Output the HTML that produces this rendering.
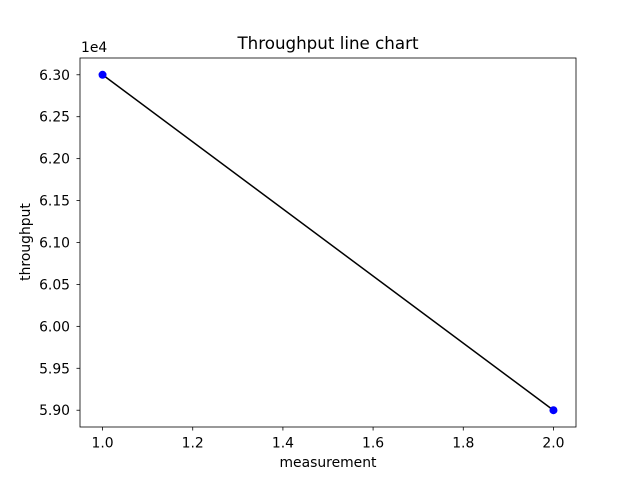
<!DOCTYPE html>
<html><head><meta charset="utf-8"><style>
body{margin:0;background:#fff;}
svg{font-family:"DejaVu Sans","Liberation Sans",sans-serif;}
</style></head><body>
<svg width="640" height="480" viewBox="0 0 640 480">
<rect width="640" height="480" fill="#fff"/>
<text x="328" y="49" font-size="16.7" text-anchor="middle">Throughput line chart</text>
<g id="axes"></g>
<rect x="80" y="58" width="496" height="369" fill="none" stroke="#000" stroke-width="0.8"/>
<text x="328" y="467" font-size="13.9" text-anchor="middle">measurement</text>
<text x="30" y="242" font-size="13.9" text-anchor="middle" transform="rotate(-90 30 242)">throughput</text>
<text x="81" y="52" font-size="13.9">1e4</text>
</svg>
<script>
const xValues = [1, 2];
const yValues = [63000, 59000];
const xTicks = [1.0, 1.2, 1.4, 1.6, 1.8, 2.0];
const yTicks = [5.90, 5.95, 6.00, 6.05, 6.10, 6.15, 6.20, 6.25, 6.30];
const X0=80,X1=576,Y0=427,Y1=58, xmin=0.95,xmax=2.05,ymin=58800,ymax=63200;
const sx=v=>X0+(v-xmin)/(xmax-xmin)*(X1-X0);
const sy=v=>Y0-(v-ymin)/(ymax-ymin)*(Y0-Y1);
const NS="http://www.w3.org/2000/svg";
const g=document.getElementById('axes');
function mk(t,a){const e=document.createElementNS(NS,t);for(const k in a)e.setAttribute(k,a[k]);g.appendChild(e);return e;}
xTicks.forEach(t=>{const x=sx(t);
 const l=mk('line',{x1:x,x2:x,y1:Y0,y2:Y0+3.5,stroke:'#000','stroke-width':0.8});
 
 
 const s=mk('text',{x:x,y:Y0+20.5,'font-size':13.9,'text-anchor':'middle'});s.textContent=t.toFixed(1);
 
 
});
yTicks.forEach(t=>{const y=sy(t*10000);
 const l=mk('line',{x1:X0-3.5,x2:X0,y1:y,y2:y,stroke:'#000','stroke-width':0.8});
 
 
 const s=mk('text',{x:X0-10,y:y+5,'font-size':13.9,'text-anchor':'end'});s.textContent=t.toFixed(2);
 
 
});
const pl=mk('polyline',{points:xValues.map((v,i)=>sx(v)+','+sy(yValues[i])).join(' '),fill:'none',stroke:'#000','stroke-width':1.5});


xValues.forEach((v,i)=>{
 const c=mk('circle',{cx:sx(v),cy:sy(yValues[i]),r:4,fill:'#0000ff'});
 
 
});
</script>
</body></html>
